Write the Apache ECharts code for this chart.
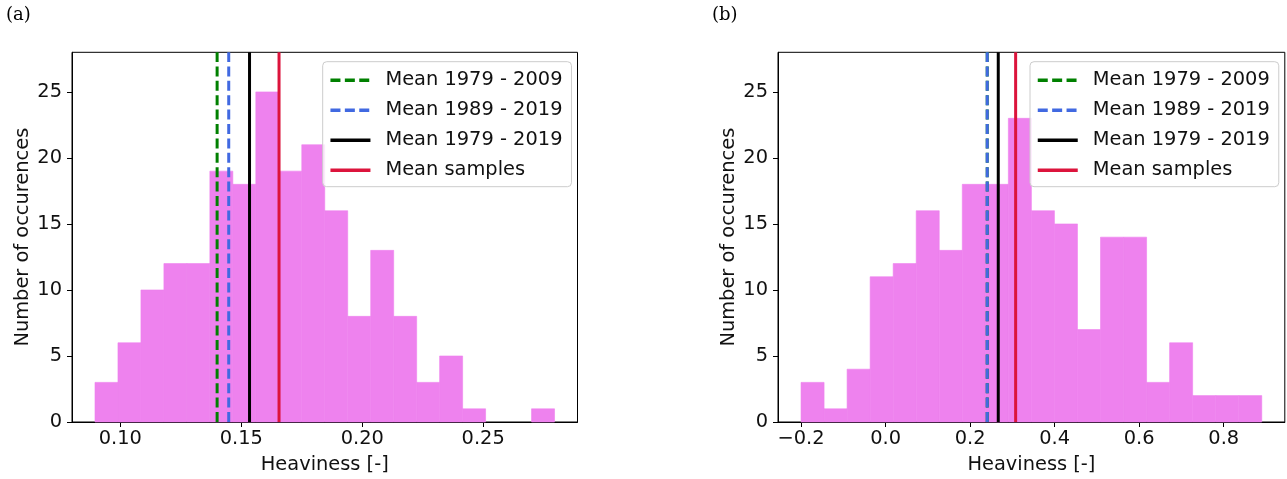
<!DOCTYPE html>
<html>
<head>
<meta charset="utf-8">
<script src="https://cdn.jsdelivr.net/npm/echarts@6/dist/echarts.min.js"></script>
<style>
  html, body { margin: 0; padding: 0; background: #ffffff; }
  #chart { width: 1287px; height: 479px; }
</style>
</head>
<body>
<div id="chart"></div>
<script>
// Panel (a): counts of 20 equal-width bins spanning rangeA
const countsA = [3, 6, 10, 12, 12, 19, 18, 25, 19, 21, 16, 8, 13, 8, 3, 5, 1, 0, 0, 1];
const rangeA = [0.0895, 0.2795];
// Panel (b): counts of 20 equal-width bins spanning rangeB
const countsB = [3, 1, 4, 11, 12, 16, 13, 18, 18, 23, 16, 15, 7, 14, 14, 3, 6, 2, 2, 2];
const rangeB = [-0.2, 0.89];

const meanNames = ['Mean 1979 - 2009', 'Mean 1989 - 2019', 'Mean 1979 - 2019', 'Mean samples'];
const meansA = [0.1400, 0.1448, 0.1534, 0.1656];
const meansB = [0.2405, 0.2405, 0.2666, 0.3077];

const xTicksA = [0.10, 0.15, 0.20, 0.25];
const xTicksB = [-0.2, 0.0, 0.2, 0.4, 0.6, 0.8];
const xLimA = [0.0800, 0.2890];
const xLimB = [-0.2545, 0.9445];
const yMax = 28;

const FONT = '"DejaVu Sans", sans-serif';
const FS = 19.4;
const TXT = '#111111';
const BAR = '#ee82ee';

const meanStyles = [
  { color: '#008000', width: 3, type: [10, 4.4] },
  { color: '#4169e1', width: 3, type: [10, 4.4] },
  { color: '#000000', width: 3, type: 'solid' },
  { color: '#dc143c', width: 3, type: 'solid' }
];

function binData(counts, range) {
  const w = (range[1] - range[0]) / counts.length;
  return counts.map((c, i) => [range[0] + i * w, range[0] + (i + 1) * w, c]);
}

function renderBin(params, api) {
  if (!api.value(2)) return null;
  const p0 = api.coord([api.value(0), 0]);
  const p1 = api.coord([api.value(1), api.value(2)]);
  return {
    type: 'rect',
    shape: { x: p0[0], y: p1[1], width: p1[0] - p0[0], height: p0[1] - p1[1] },
    style: { fill: BAR, stroke: BAR, lineWidth: 0.6 }
  };
}

const axisLineStyle = { color: '#000000', width: 1 };

function xAxisFor(idx, lim, ticks, fmt) {
  return {
    gridIndex: idx, type: 'value', min: lim[0], max: lim[1],
    axisLine: { show: true, onZero: false, lineStyle: axisLineStyle },
    axisTick: { show: true, inside: false, length: 5, customValues: ticks, lineStyle: axisLineStyle },
    axisLabel: { customValues: ticks, formatter: fmt, margin: 7, fontFamily: FONT, fontSize: FS, color: TXT },
    splitLine: { show: false },
    name: 'Heaviness [-]', nameLocation: 'middle', nameGap: 33,
    nameTextStyle: { fontFamily: FONT, fontSize: FS, color: TXT }
  };
}

function yAxisFor(idx) {
  return {
    gridIndex: idx, type: 'value', min: 0, max: yMax, interval: 5,
    axisLine: { show: true, onZero: false, lineStyle: axisLineStyle },
    axisTick: { show: true, inside: false, length: 5, lineStyle: axisLineStyle },
    axisLabel: { margin: 10, fontFamily: FONT, fontSize: FS, color: TXT, showMaxLabel: false },
    splitLine: { show: false },
    name: 'Number of occurences', nameLocation: 'middle', nameGap: 40,
    nameTextStyle: { fontFamily: FONT, fontSize: FS, color: TXT }
  };
}

function meanSeries(idx, means) {
  return means.map((m, i) => ({
    name: meanNames[i], type: 'line', xAxisIndex: idx, yAxisIndex: idx,
    data: [[m, 0], [m, yMax]], symbol: 'none', silent: true,
    lineStyle: meanStyles[i], itemStyle: { color: meanStyles[i].color },
    z: 3
  }));
}

function legendAt(left) {
  return {
    left: left, top: 61.7, orient: 'vertical', data: meanNames,
    itemWidth: 40, itemHeight: 20, itemGap: 11, selectedMode: false,
    backgroundColor: 'rgba(255,255,255,0.8)', borderColor: '#cccccc', borderWidth: 1, borderRadius: 4,
    padding: [9, 9, 7, 6],
    itemStyle: { color: 'rgba(0,0,0,0)', borderWidth: 0, opacity: 0 },
    lineStyle: { width: 3.5 },
    textStyle: { fontFamily: FONT, fontSize: FS, color: TXT, padding: [0, 0, 0, 10] },
    z: 10
  };
}

const fmtA = v => v.toFixed(2);
const fmtB = v => (v < 0 ? '\u2212' : '') + Math.abs(v).toFixed(1);

const chart = echarts.init(document.getElementById('chart'), null, { renderer: 'canvas' });
chart.setOption({
  animation: false,
  backgroundColor: '#ffffff',
  grid: [
    { left: 72, right: 1287 - 577.5, top: 52.3, bottom: 57, show: true, borderColor: '#000000', borderWidth: 1, backgroundColor: 'transparent' },
    { left: 778, right: 2.2, top: 52.3, bottom: 57, show: true, borderColor: '#000000', borderWidth: 1, backgroundColor: 'transparent' }
  ],
  xAxis: [xAxisFor(0, xLimA, xTicksA, fmtA), xAxisFor(1, xLimB, xTicksB, fmtB)],
  yAxis: [yAxisFor(0), yAxisFor(1)],
  legend: [legendAt(322.7), legendAt(1030)],
  graphic: [
    { type: 'text', left: 6, top: 6, style: { text: '(a)', font: '18px "DejaVu Serif", serif', fill: '#000000' } },
    { type: 'text', left: 712, top: 6, style: { text: '(b)', font: '18px "DejaVu Serif", serif', fill: '#000000' } }
  ],
  series: [
    { type: 'custom', name: 'hist a', xAxisIndex: 0, yAxisIndex: 0, renderItem: renderBin,
      encode: { x: [0, 1], y: 2 }, data: binData(countsA, rangeA), silent: true, z: 2 },
    { type: 'custom', name: 'hist b', xAxisIndex: 1, yAxisIndex: 1, renderItem: renderBin,
      encode: { x: [0, 1], y: 2 }, data: binData(countsB, rangeB), silent: true, z: 2 }
  ].concat(meanSeries(0, meansA), meanSeries(1, meansB))
});
</script>
</body>
</html>
